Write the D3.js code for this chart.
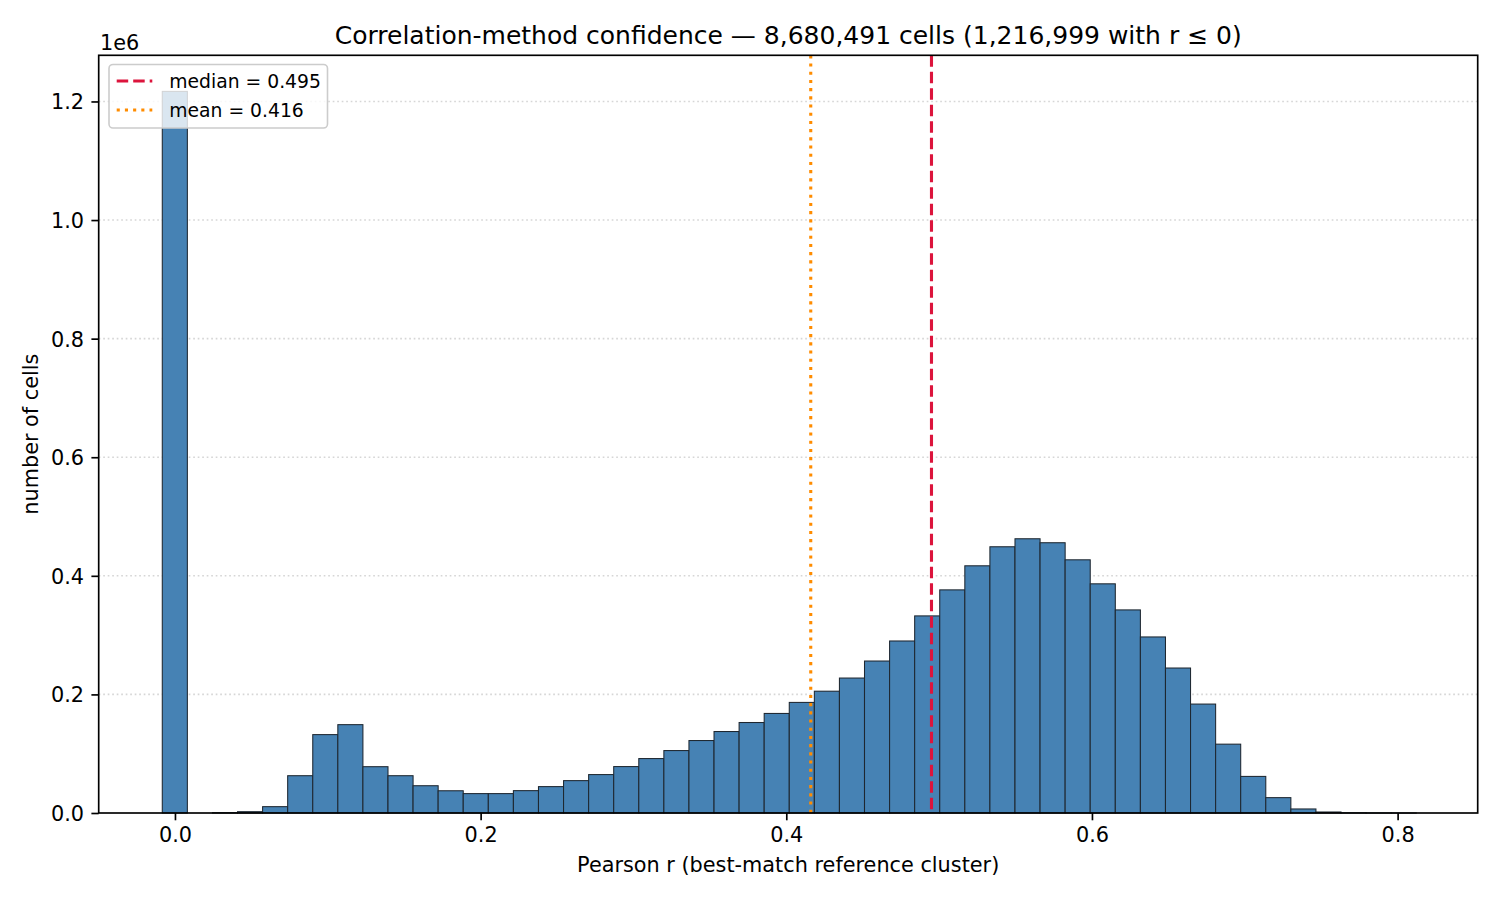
<!DOCTYPE html>
<html>
<head>
<meta charset="utf-8">
<title>Correlation-method confidence</title>
<script src="https://cdn.jsdelivr.net/npm/d3@7"></script>
<style>
  html, body { margin: 0; padding: 0; background: #fff; }
  svg text { font-family: "DejaVu Sans", sans-serif; fill: #000; }
</style>
</head>
<body>
<svg id="chart" width="1500" height="900"></svg>
<script>
// histogram of best-match Pearson r, 50 equal bins (r <= 0 piled into the first bin)
var binFirstEdge = -0.0083;
var binWidth = 0.01641;
var binCounts = [
  1216999, 0, 500, 2200, 10700, 62900, 132200, 149000, 78100, 62900,
  46000, 37500, 32700, 32700, 37700, 44500, 54600, 64800, 78300, 91800,
  105300, 122200, 137400, 152600, 167900, 186500, 205400, 227600, 256300, 290100,
  332400, 376300, 416900, 449000, 462500, 455800, 427000, 386500, 342500, 296900,
  244500, 183700, 116100, 61700, 25900, 6800, 1700, 300, 60, 10
];
var xDomain = [-0.0499, 0.8524];
var xTicks = [0, 0.2, 0.4, 0.6, 0.8];
var yTicks = [0, 200000, 400000, 600000, 800000, 1000000, 1200000];
var totalCells = 8680491;
var nonPositive = 1216999;
var medianR = 0.495;
var meanR = 0.416;

var svg = d3.select('#chart');
var plot = { left: 98.7, right: 1477.7, top: 55.3, bottom: 813 };
var x, y;
var fmtComma = d3.format(',');

var app = {
  init: function(){
    app.scales();
    app.drawGrid();
    app.drawBars();
    app.drawRefLines();
    app.drawAxes();
    app.drawText();
    app.drawLegend();
  },
  scales: function(){
    x = d3.scaleLinear()
      .domain(xDomain)
      .range([plot.left, plot.right]);
    // 5% headroom above the tallest bar, like matplotlib
    y = d3.scaleLinear()
      .domain([0, d3.max(binCounts) * 1.05])
      .range([plot.bottom, plot.top]);
  },
  drawGrid: function(){
    svg.append('g')
      .selectAll('line')
      .data(yTicks.filter(function(d){ return d > 0; }))
      .enter().append('line')
        .attr('x1', plot.left)
        .attr('x2', plot.right)
        .attr('y1', function(d){ return y(d); })
        .attr('y2', function(d){ return y(d); })
        .attr('stroke', '#d6d6d6')
        .attr('stroke-width', 1.6)
        .attr('stroke-dasharray', '1.7,2.8');
  },
  drawBars: function(){
    var bins = binCounts.map(function(c, i){
      return { x0: binFirstEdge + i * binWidth, x1: binFirstEdge + (i + 1) * binWidth, count: c };
    });
    svg.append('g')
      .selectAll('rect')
      .data(bins.filter(function(d){ return d.count > 0; }))
      .enter().append('rect')
        .attr('x', function(d){ return x(d.x0); })
        .attr('width', function(d){ return x(d.x1) - x(d.x0); })
        .attr('y', function(d){ return y(d.count); })
        .attr('height', function(d){ return plot.bottom - y(d.count); })
        .attr('fill', '#4682b4')
        .attr('stroke', '#1e2730')
        .attr('stroke-width', 1.05);
  },
  drawRefLines: function(){
    svg.append('line')
      .attr('x1', x(meanR)).attr('x2', x(meanR))
      .attr('y1', plot.top).attr('y2', plot.bottom)
      .attr('stroke', '#ff8c00')
      .attr('stroke-width', 3.1)
      .attr('stroke-dasharray', '3.1,5.1');
    svg.append('line')
      .attr('x1', x(medianR)).attr('x2', x(medianR))
      .attr('y1', plot.top).attr('y2', plot.bottom)
      .attr('stroke', '#dc143c')
      .attr('stroke-width', 3.1)
      .attr('stroke-dasharray', '11.5,5');
  },
  drawAxes: function(){
    var xAxis = d3.axisBottom(x)
      .tickValues(xTicks)
      .tickFormat(d3.format('.1f'))
      .tickSize(7.3)
      .tickPadding(7.3);
    var yAxis = d3.axisLeft(y)
      .tickValues(yTicks)
      .tickFormat(function(d){ return (d / 1e6).toFixed(1); })
      .tickSize(7.3)
      .tickPadding(7.3);

    var gx = svg.append('g')
      .attr('transform', 'translate(0,' + plot.bottom + ')')
      .call(xAxis);
    var gy = svg.append('g')
      .attr('transform', 'translate(' + plot.left + ',0)')
      .call(yAxis);

    [gx, gy].forEach(function(g){
      g.select('.domain').remove();
      g.selectAll('.tick line').attr('stroke', '#000').attr('stroke-width', 1.67);
      g.selectAll('.tick text')
        .style('font-family', '"DejaVu Sans", sans-serif')
        .style('font-size', '20.8px')
        .attr('fill', '#000');
    });
    gy.selectAll('.tick text').attr('dy', '0.36em');

    // frame round the plot area
    svg.append('rect')
      .attr('x', plot.left).attr('y', plot.top)
      .attr('width', plot.right - plot.left)
      .attr('height', plot.bottom - plot.top)
      .attr('fill', 'none')
      .attr('stroke', '#000')
      .attr('stroke-width', 1.67);
  },
  drawText: function(){
    svg.append('text')
      .attr('x', (plot.left + plot.right) / 2)
      .attr('y', 43.5)
      .attr('text-anchor', 'middle')
      .style('font-size', '25px')
      .text('Correlation-method confidence \u2014 ' + fmtComma(totalCells) +
            ' cells (' + fmtComma(nonPositive) + ' with r \u2264 0)');

    svg.append('text')
      .attr('x', (plot.left + plot.right) / 2)
      .attr('y', 871.5)
      .attr('text-anchor', 'middle')
      .style('font-size', '20.8px')
      .text('Pearson r (best-match reference cluster)');

    svg.append('text')
      .attr('transform', 'translate(38,' + ((plot.top + plot.bottom) / 2) + ') rotate(-90)')
      .attr('text-anchor', 'middle')
      .style('font-size', '20.8px')
      .text('number of cells');

    svg.append('text')
      .attr('x', 100)
      .attr('y', 50)
      .style('font-size', '20.8px')
      .text('1e6');
  },
  drawLegend: function(){
    var items = [
      { label: 'median = ' + medianR.toFixed(3), color: '#dc143c', dash: '11.5,5' },
      { label: 'mean = ' + meanR.toFixed(3), color: '#ff8c00', dash: '3.1,5.1' }
    ];
    var lg = svg.append('g');
    lg.append('rect')
      .attr('x', 109).attr('y', 64.5)
      .attr('width', 218.5).attr('height', 63.5)
      .attr('rx', 4).attr('ry', 4)
      .attr('fill', '#fff').attr('fill-opacity', 0.8)
      .attr('stroke', '#cccccc').attr('stroke-width', 1.6);
    var row = lg.selectAll('g.item')
      .data(items)
      .enter().append('g')
        .attr('class', 'item')
        .attr('transform', function(d, i){ return 'translate(0,' + (81 + i * 29) + ')'; });
    row.append('line')
      .attr('x1', 116.7).attr('x2', 152.3)
      .attr('stroke', function(d){ return d.color; })
      .attr('stroke-width', 3.1)
      .attr('stroke-dasharray', function(d){ return d.dash; });
    row.append('text')
      .attr('x', 169.3)
      .attr('dy', '0.36em')
      .style('font-size', '18.75px')
      .text(function(d){ return d.label; });
  }
};

app.init();
</script>
</body>
</html>
